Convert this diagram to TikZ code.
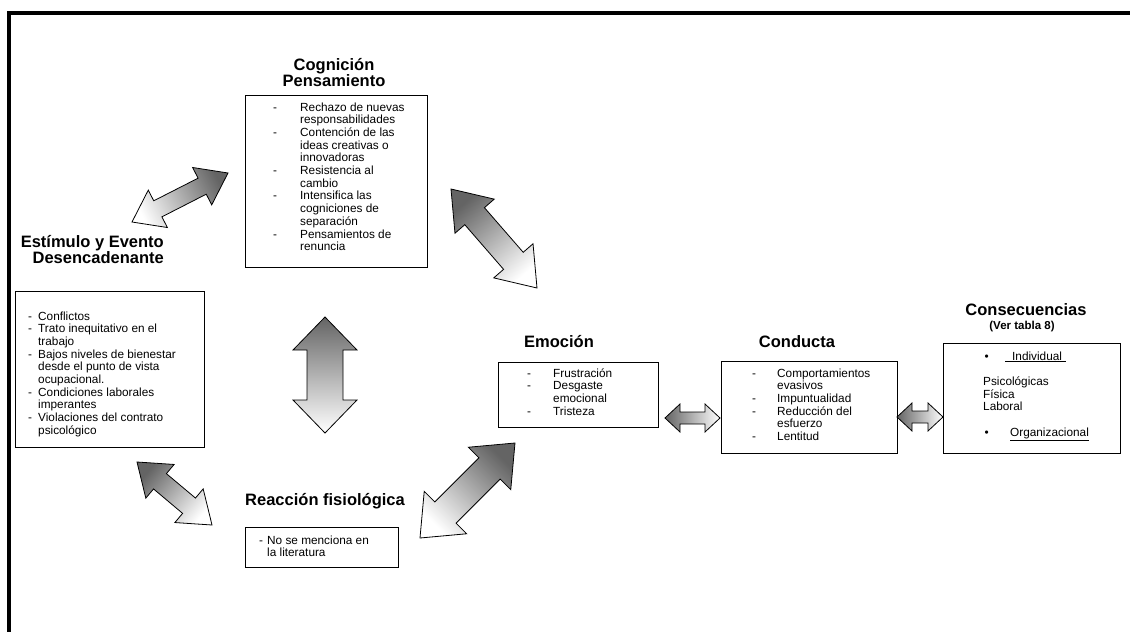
\documentclass[tikz,border=0pt]{standalone}
\usepackage{fontspec}
\setmainfont{Liberation Sans}
\usepackage{array}
\usetikzlibrary{calc}
\definecolor{arrowgrey}{RGB}{100,100,100}
\newcommand{\listfont}{\fontsize{11.8}{12.7}\selectfont}
\newcommand{\headfont}{\fontsize{16.5}{16.5}\selectfont\bfseries}
\tikzset{
  frame/.style={draw=black, line width=3.5pt},
  listbox/.style={draw=black, line width=0.9pt, anchor=north west, inner sep=0pt},
  listtext/.style={anchor=base west, inner sep=0pt, font=\listfont},
  heading/.style={anchor=base, inner sep=0pt, font=\headfont},
  note/.style={anchor=base, inner sep=0pt, font=\fontsize{11.5}{12}\selectfont\bfseries},
  arrowbody/.style={draw=black, line width=0.8pt, line join=miter}
}
% double block arrow: from, to, half shaft, half head, head length, shading angle
\newcommand{\blockarrow}[6]{%
  \path ($(#1)!#5pt!(#2)$) coordinate (neckA) ($(#2)!#5pt!(#1)$) coordinate (neckB);
  \draw[arrowbody, top color=arrowgrey, bottom color=white, shading angle=#6]
    (#1) -- ($(neckA)!#4pt!90:(#2)$) -- ($(neckA)!#3pt!90:(#2)$)
    -- ($(neckB)!#3pt!-90:(#1)$) -- ($(neckB)!#4pt!-90:(#1)$) -- (#2)
    -- ($(neckB)!#4pt!90:(#1)$) -- ($(neckB)!#3pt!90:(#1)$)
    -- ($(neckA)!#3pt!-90:(#2)$) -- ($(neckA)!#4pt!-90:(#2)$) -- cycle;}

\begin{document}
\begin{tikzpicture}[x=1pt,y=-1pt]
  \useasboundingbox (0,0) rectangle (1130,632);
  \draw[frame] (1130,13) -- (9,13) -- (9,632);

  % headings
  \node[heading] (coghead) at (334,70) {\begin{tabular}[t]{@{}c@{}}Cognición\\Pensamiento\end{tabular}};
  \node[heading,anchor=base east] (stimhead) at (164,247) {\begin{tabular}[t]{@{}r@{}}Estímulo y Evento\\Desencadenante\end{tabular}};
  \node[heading] (emohead) at (559,347) {Emoción};
  \node[heading] (condhead) at (797,347) {Conducta};
  \node[heading] (conshead) at (1026,315) {Consecuencias};
  \node[note] (consnote) at (1022,329) {(Ver tabla 8)};
  \node[heading] (reachead) at (325,505) {Reacción fisiológica};

  % boxes
  \node[listbox,minimum width=182pt,minimum height=172pt] (cogbox) at (245,95) {};
  \node[listbox,minimum width=189pt,minimum height=156pt] (stimbox) at (15,291) {};
  \node[listbox,minimum width=160pt,minimum height=65pt] (emobox) at (498,362) {};
  \node[listbox,minimum width=176pt,minimum height=92pt] (condbox) at (721,361) {};
  \node[listbox,minimum width=177pt,minimum height=110pt] (consbox) at (943,343) {};
  \node[listbox,minimum width=153pt,minimum height=40pt] (reacbox) at (245,527) {};

  % box texts
  \node[listtext] (cogtext) at (273,111) {\begin{tabular}[t]{@{}p{27pt}@{}l@{}}
    - & Rechazo de nuevas\\ & responsabilidades\\
    - & Contención de las\\ & ideas creativas o\\ & innovadoras\\
    - & Resistencia al\\ & cambio\\
    - & Intensifica las\\ & cogniciones de\\ & separación\\
    - & Pensamientos de\\ & renuncia\end{tabular}};
  \node[listtext] (stimtext) at (28,320) {\begin{tabular}[t]{@{}p{10pt}@{}l@{}}
    - & Conflictos\\
    - & Trato inequitativo en el\\ & trabajo\\
    - & Bajos niveles de bienestar\\ & desde el punto de vista\\ & ocupacional.\\
    - & Condiciones laborales\\ & imperantes\\
    - & Violaciones del contrato\\ & psicológico\end{tabular}};
  \node[listtext] (emotext) at (527,377) {\begin{tabular}[t]{@{}p{26pt}@{}l@{}}
    - & Frustración\\ - & Desgaste\\ & emocional\\ - & Tristeza\end{tabular}};
  \node[listtext] (condtext) at (752,377) {\begin{tabular}[t]{@{}p{25pt}@{}l@{}}
    - & Comportamientos\\ & evasivos\\ - & Impuntualidad\\
    - & Reducción del\\ & esfuerzo\\ - & Lentitud\end{tabular}};
  \node[listtext] (constext) at (983,360) {\begin{tabular}[t]{@{}p{22pt}@{}l@{}}
    \hspace{1.5pt}\textbullet & \underline{\hspace{7pt}Individual\hspace{4pt}}\\
    \\
    \multicolumn{2}{@{}l@{}}{Psicológicas}\\
    \multicolumn{2}{@{}l@{}}{Física}\\
    \multicolumn{2}{@{}l@{}}{Laboral}\\
    \\
    \hspace{1.5pt}\textbullet & \hspace{5pt}\underline{Organizacional}\end{tabular}};
  \node[listtext] (reactext) at (259,544) {\begin{tabular}[t]{@{}p{8pt}@{}l@{}}
    - & No se menciona en\\ & la literatura\end{tabular}};

  % arrow ends
  \coordinate (stimup) at (132,222);
  \coordinate (cogleft) at (228,173);
  \coordinate (midtop) at (325,317);
  \coordinate (midbot) at (325,433);
  \coordinate (stimdown) at (137,462);
  \coordinate (reacleft) at (212,525);
  \coordinate (reacright) at (420,538);
  \coordinate (emoleft) at (515,443);
  \coordinate (cogright) at (451,189);
  \coordinate (emotop) at (537,288);
  \coordinate (emoright) at (665,418);
  \coordinate (condleft) at (720,418);
  \coordinate (condright) at (897,417);
  \coordinate (consleft) at (943,417);

  \foreach \a/\b/\w/\h/\l/\ang in {stimup/cogleft/9/21/29/-63, midtop/midbot/18/32/33/0,
      stimdown/reacleft/10/22/30/50, reacright/emoleft/15/30/36/-45,
      cogright/emotop/13/26/36/41, emoright/condleft/6/14/15/90,
      condright/consleft/6/14/15/90}
    \blockarrow{\a}{\b}{\w}{\h}{\l}{\ang};
\end{tikzpicture}
\end{document}
